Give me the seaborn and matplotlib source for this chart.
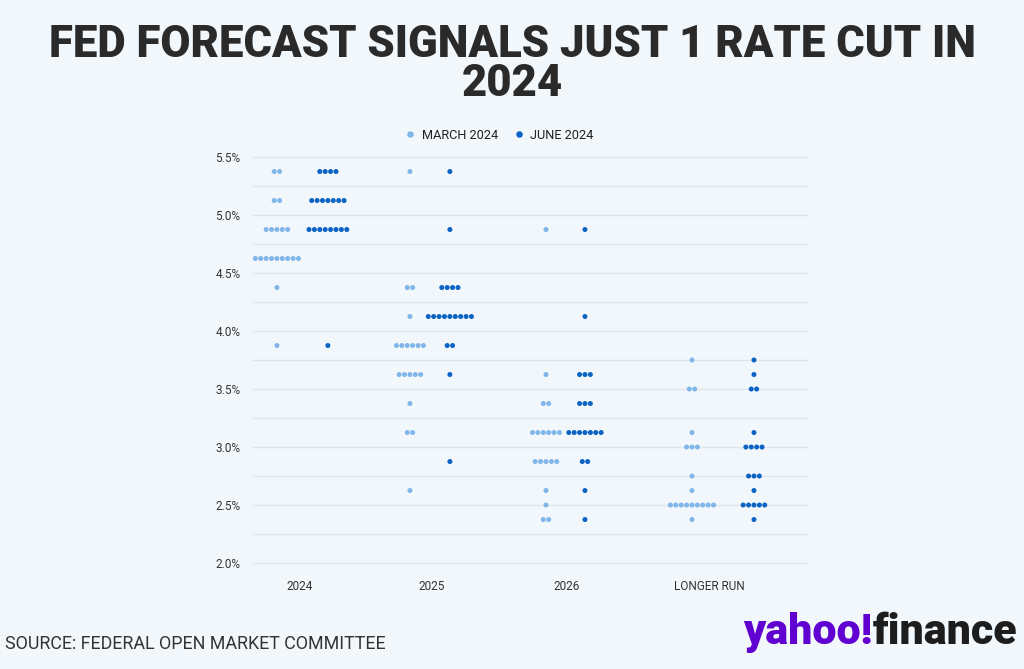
import numpy as np
import pandas as pd
import seaborn as sns
import matplotlib.pyplot as plt

# Datos: número de participantes del FOMC por tasa proyectada
anios = ["2024", "2025", "2026", "LONGER RUN"]

marzo_tasas = [
    [5.375, 5.125, 4.875, 4.625, 4.375, 3.875],
    [5.375, 4.375, 4.125, 3.875, 3.625, 3.375, 3.125, 2.625],
    [4.875, 3.625, 3.375, 3.125, 2.875, 2.625, 2.5, 2.375],
    [3.75, 3.5, 3.125, 3.0, 2.75, 2.625, 2.5, 2.375],
]
marzo_conteo = [
    [2, 2, 5, 9, 1, 1],
    [1, 2, 1, 6, 5, 1, 2, 1],
    [1, 1, 2, 6, 5, 1, 1, 2],
    [1, 2, 1, 3, 1, 1, 9, 1],
]

junio_tasas = [
    [5.375, 5.125, 4.875, 3.875],
    [5.375, 4.875, 4.375, 4.125, 3.875, 3.625, 2.875],
    [4.875, 4.125, 3.625, 3.375, 3.125, 2.875, 2.625, 2.375],
    [3.75, 3.625, 3.5, 3.125, 3.0, 2.75, 2.625, 2.5, 2.375],
]
junio_conteo = [
    [4, 7, 8, 1],
    [1, 1, 4, 9, 2, 1, 1],
    [1, 1, 3, 3, 7, 2, 1, 1],
    [1, 1, 2, 1, 4, 3, 1, 5, 1],
]

# Posiciones de cada grupo en el eje x (layout)
pos_marzo = [-0.169, 0.807, 1.805, 2.876]
pos_junio = [0.205, 1.100, 2.091, 3.331]
pos_etiquetas = [0, 0.968, 1.959, 3.0]
paso = 0.0396

filas = []
for i, anio in enumerate(anios):
    for serie, tasas, conteos, centro in [("MARCH 2024", marzo_tasas, marzo_conteo, pos_marzo),
                                          ("JUNE 2024", junio_tasas, junio_conteo, pos_junio)]:
        for tasa, n in zip(tasas[i], conteos[i]):
            for k in range(n):
                filas.append({"anio": anio, "serie": serie, "tasa": tasa,
                              "x": centro[i] + (k - (n - 1) / 2) * paso})
datos = pd.DataFrame(filas)

fondo = "#f2f7fb"
sns.set_theme(style="white")
plt.rcParams['font.family'] = ['Roboto', 'DejaVu Sans']

fig = plt.figure(figsize=(10.24, 6.69), dpi=100, facecolor=fondo)
ax = fig.add_axes([0.247, 0.1584, 0.542, 0.6069])
ax.set_facecolor(fondo)

for y in np.arange(2.0, 5.51, 0.25):
    ax.axhline(y, color="#dfe5ea", linewidth=1, zorder=0, clip_on=False)

sns.scatterplot(data=datos, x="x", y="tasa", hue="serie",
                palette={"MARCH 2024": "#80b6ea", "JUNE 2024": "#0b63c4"},
                s=13, linewidth=0, ax=ax, zorder=3, clip_on=False)

handles, labels = ax.get_legend_handles_labels()
ax.get_legend().remove()
fig.legend(handles, labels, loc="center", bbox_to_anchor=(0.484, 0.798), ncol=2,
           frameon=False, fontsize=9.2, markerscale=1.3, handletextpad=-0.1,
           columnspacing=0.6, labelcolor="#222222")

ax.set_xlim(-0.345, 3.727)
ax.set_ylim(2.0, 5.5)
ax.set_yticks(np.arange(2.0, 5.51, 0.5))
ax.set_yticklabels([f"{v:.1f}%" for v in np.arange(2.0, 5.51, 0.5)])
ax.set_xticks(pos_etiquetas)
ax.set_xticklabels(anios)
ax.tick_params(axis="both", length=0, labelsize=8.5, colors="#333333")
ax.tick_params(axis="y", pad=9)
ax.tick_params(axis="x", pad=12)
ax.set_xlabel("")
ax.set_ylabel("")
sns.despine(ax=ax, left=True, bottom=True)

fig.text(0.5, 0.932, "FED FORECAST SIGNALS JUST 1 RATE CUT IN", ha="center", va="center",
         fontsize=31.4, fontweight="heavy", color="#2a2a2a")
fig.text(0.5, 0.874, "2024", ha="center", va="center",
         fontsize=31.4, fontweight="heavy", color="#2a2a2a")

fig.text(0.005, 0.038, "SOURCE: FEDERAL OPEN MARKET COMMITTEE", ha="left", va="center",
         fontsize=12.9, color="#333333")

t1 = fig.text(0.726, 0.055, "yahoo!", ha="left", va="center", fontsize=31,
              fontweight="heavy", color="#6001d2")
fig.canvas.draw()
bb = t1.get_window_extent()
fig.text(bb.x1 / fig.bbox.width, 0.055, "finance", ha="left", va="center", fontsize=31,
         fontweight="heavy", color="#1d1d1d")

fig.savefig("out.png", dpi=100, facecolor=fondo)
